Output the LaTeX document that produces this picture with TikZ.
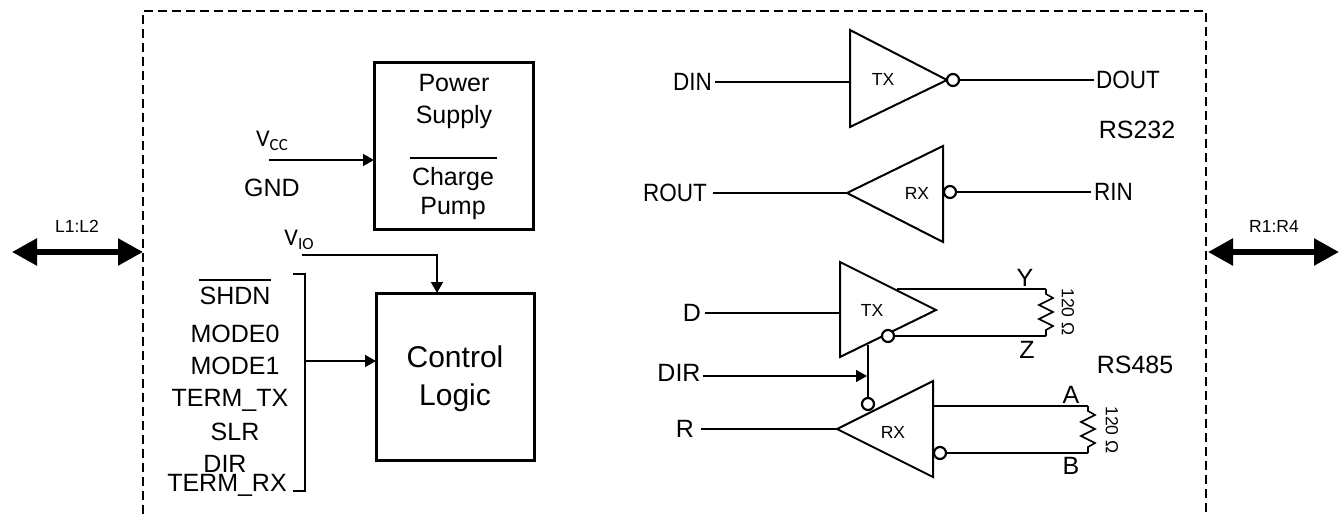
\documentclass[tikz,border=0pt]{standalone}
\usepackage{fontspec}
\setmainfont{Liberation Sans}
\newfontfamily\carlitofont{Carlito}
\usepackage{tikz}
\usetikzlibrary{arrows.meta}
\tikzset{
  lbl/.style={inner sep=0pt,text depth=0pt,font=\fontsize{25}{25}\selectfont},
  big/.style={inner sep=0pt,text depth=0pt,font=\fontsize{30}{30}\selectfont},
  tiny/.style={inner sep=0pt,text depth=0pt,font=\fontsize{17.5}{17.5}\selectfont},
  supply/.style={inner sep=0pt,text depth=0pt,font=\carlitofont\fontsize{24}{24}\selectfont},
  bubble/.style={circle,draw,fill=white,line width=2.2pt,minimum size=12pt,inner sep=0pt},
  gate/.style={line width=2pt,line join=miter},
  wire/.style={line width=1.6pt},
  feed/.style={line width=1.6pt,-{Triangle[length=11pt,width=12pt]}},
  bus/.style={line width=5.5pt,{Triangle[length=25pt,width=26pt]}-{Triangle[length=25pt,width=26pt]}},
  block/.style={line width=3pt}
}
\newcommand{\zigzag}{-- ++(0,5) -- ++(7,4) -- ++(-14,7) -- ++(14,7) -- ++(-14,7) -- ++(14,7) -- ++(-7,4) -- ++(0,6)}
\newcommand{\narrow}[1]{\scalebox{0.9}[1]{#1}}
\begin{document}
\begin{tikzpicture}[x=1pt,y=-1pt]
\useasboundingbox (0,0) rectangle (1341,514);
% Frame
\draw[line width=2.5pt,dash pattern=on 9pt off 5pt] (143,514) -- (143,11) -- (1206,11) -- (1206,514);
\coordinate (lA) at (12,252);
\coordinate (lB) at (143,252);
\coordinate (rA) at (1208,252);
\coordinate (rB) at (1339,252);
\draw[bus] (lA) -- (lB);
\draw[bus] (rA) -- (rB);
\node[tiny] at (77,226) {L1:L2};
\node[tiny] at (1274,226) {R1:R4};
% Power supply
\draw[block] (374,62) rectangle (533,229);
\node[lbl] at (454,83) {Power};
\node[lbl] at (454,114) {Supply};
\node[lbl] at (453,176) {Charge};
\node[lbl] at (453,206) {Pump};
\draw[wire] (410,158) -- (497,158);
\node[supply] (vcc) at (272,139) {V\raisebox{-4pt}{\fontsize{17}{17}\selectfont CC}};
\node[lbl] (gnd) at (272,188) {GND};
\coordinate (vccIn) at (269,160);
\draw[feed] (vccIn) -- (374,160);
% Control logic
\draw[block] (376,293) rectangle (534,460);
\node[big] at (455,357) {Control};
\node[big] at (455,395) {Logic};
\node[supply] (vio) at (299,238) {V\raisebox{-4pt}{\fontsize{17}{17}\selectfont IO}};
\coordinate (vioIn) at (302,255);
\draw[feed] (vioIn) -| (437,293);
\draw[line width=1.4pt] (293,274) -- (305,274) -- (305,491) -- (293,491);
\coordinate (busOut) at (305,361);
\draw[feed] (busOut) -- (376,361);
\node[lbl] (shdn) at (235,296) {SHDN};
\draw[line width=1.4pt] ([yshift=7pt]shdn.north west) -- ([yshift=7pt]shdn.north east);
\node[lbl] at (235,334) {MODE0};
\node[lbl] at (235,366) {MODE1};
\node[lbl] at (230,398) {TERM\_TX};
\node[lbl] at (235,432) {SLR};
\node[lbl] at (225,464) {DIR};
\node[lbl] at (227,483) {TERM\_RX};
% RS232
\coordinate (txOne) at (850,82);
\draw[gate] (850,30) -- (947,80) -- (850,127) -- cycle;
\node[bubble] (txOneB) at (953,80) {};
\node[tiny] at (883,79) {TX};
\node[lbl,anchor=east] (din) at (712,82) {\narrow{DIN}};
\node[lbl,anchor=west] (dout) at (1096,80) {\narrow{DOUT}};
\draw[wire] ([xshift=3pt]din.east) -- (din.east -| txOne);
\draw[wire] (txOneB) -- ([xshift=-2pt]dout.west);
\node[lbl] at (1137,130) {RS232};
\coordinate (rxOne) at (847,193);
\draw[gate] (943,146) -- (847,193) -- (943,242) -- cycle;
\node[bubble] (rxOneB) at (950,192) {};
\node[tiny] at (917,193) {RX};
\node[lbl,anchor=east] (rout) at (707,193) {\narrow{ROUT}};
\node[lbl,anchor=west] (rin) at (1094,192) {\narrow{RIN}};
\draw[wire] ([xshift=6pt]rout.east) -- (rxOne);
\draw[wire] (rxOneB) -- ([xshift=-3pt]rin.west);
% RS485
\coordinate (txTwo) at (840,313);
\draw[gate] (840,262) -- (936,310) -- (840,357) -- cycle;
\node[tiny] at (872,310) {TX};
\node[lbl] (d) at (692,313) {D};
\draw[wire] ([xshift=4pt]d.east) -- (txTwo);
\node[bubble] (txTwoB) at (888,336) {};
\coordinate (yA) at (897,289);
\coordinate (yB) at (1046,289);
\coordinate (zB) at (1046,336);
\draw[wire] (yA) -- (yB);
\draw[wire] (txTwoB) -- (zB);
\draw[wire] (yB) \zigzag;
\node[tiny,rotate=-90] at (1068,312) {120 Ω};
\node[lbl] at (1025,278) {Y};
\node[lbl] at (1027,350) {Z};
\node[lbl] at (1135,365) {RS485};
\coordinate (rxTwo) at (837,429);
\draw[gate] (933,381) -- (837,429) -- (933,477) -- cycle;
\node[tiny] at (893,432) {RX};
\node[lbl] (r) at (685,429) {R};
\draw[wire] ([xshift=7pt]r.east) -- (rxTwo);
\node[bubble] (rxTwoB) at (940,453) {};
\coordinate (aA) at (933,406);
\coordinate (aB) at (1088,406);
\coordinate (bB) at (1088,453);
\draw[wire] (aA) -- (aB);
\draw[wire] (rxTwoB) -- (bB);
\draw[wire] (aB) \zigzag;
\node[tiny,rotate=-90] at (1112,430) {120 Ω};
\node[lbl] at (1071,395) {A};
\node[lbl] at (1071,466) {B};
% Direction
\coordinate (dirTop) at (868,345);
\node[bubble] (dirB) at (868,404) {};
\draw[wire] (dirTop) -- (dirB);
\node[lbl] (dir) at (679,373) {DIR};
\coordinate (dirIn) at (703,376);
\coordinate (dirEnd) at (867,376);
\draw[feed] (dirIn) -- (dirEnd);
\end{tikzpicture}
\end{document}
